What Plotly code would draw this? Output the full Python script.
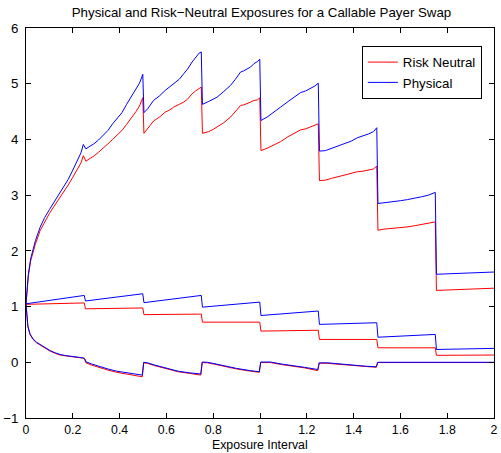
import plotly.graph_objects as go

# ---- Upper exposure quantile (Physical / Risk Neutral) ----
up_phys_x = [0, 0.005, 0.01, 0.02, 0.03, 0.04, 0.06, 0.08, 0.10, 0.12, 0.14, 0.16, 0.18, 0.20, 0.22, 0.235, 0.245,
             0.256, 0.27, 0.29, 0.31, 0.33, 0.35, 0.37, 0.39, 0.41, 0.43, 0.45, 0.47, 0.485, 0.495, 0.499,
             0.504, 0.52, 0.545, 0.57, 0.595, 0.615, 0.631, 0.655, 0.674, 0.69, 0.71, 0.725, 0.74, 0.749,
             0.754, 0.78, 0.80, 0.817, 0.845, 0.874, 0.895, 0.917, 0.93, 0.945, 0.96, 0.974, 0.99, 0.999,
             1.004, 1.03, 1.06, 1.088, 1.12, 1.145, 1.173, 1.195, 1.216, 1.235, 1.249,
             1.254, 1.28, 1.305, 1.33, 1.36, 1.39, 1.416, 1.44, 1.465, 1.485, 1.499,
             1.504, 1.53, 1.56, 1.60, 1.63, 1.66, 1.69, 1.72, 1.74, 1.749,
             1.754, 2.0]
up_phys_y = [1.05, 1.40, 1.58, 1.86, 2.02, 2.18, 2.42, 2.60, 2.74, 2.87, 3.00, 3.13, 3.28, 3.45, 3.62, 3.76, 3.91,
             3.83, 3.87, 3.92, 3.99, 4.07, 4.16, 4.28, 4.38, 4.48, 4.63, 4.76, 4.90, 5.01, 5.12, 5.17,
             4.48, 4.55, 4.70, 4.78, 4.88, 4.95, 5.00, 5.08, 5.18, 5.26, 5.39, 5.46, 5.55, 5.57,
             4.63, 4.68, 4.72, 4.76, 4.86, 4.97, 5.08, 5.21, 5.23, 5.27, 5.30, 5.36, 5.40, 5.44,
             4.34, 4.40, 4.50, 4.58, 4.68, 4.75, 4.84, 4.87, 4.91, 4.96, 5.01,
             3.79, 3.80, 3.84, 3.87, 3.93, 3.97, 4.03, 4.06, 4.10, 4.14, 4.21,
             2.85, 2.86, 2.88, 2.90, 2.92, 2.94, 2.97, 3.00, 3.03, 3.05,
             1.58, 1.62]

up_rn_x = up_phys_x
up_rn_y = [1.04, 1.38, 1.55, 1.82, 1.98, 2.12, 2.36, 2.53, 2.67, 2.80, 2.92, 3.05, 3.18, 3.32, 3.48, 3.58, 3.71,
           3.61, 3.65, 3.70, 3.77, 3.84, 3.92, 4.00, 4.08, 4.16, 4.27, 4.38, 4.50, 4.60, 4.70, 4.75,
           4.11, 4.20, 4.33, 4.40, 4.49, 4.53, 4.58, 4.63, 4.67, 4.72, 4.82, 4.87, 4.92, 4.94,
           4.11, 4.14, 4.18, 4.22, 4.30, 4.40, 4.50, 4.61, 4.62, 4.64, 4.67, 4.70, 4.71, 4.75,
           3.80, 3.84, 3.90, 3.96, 4.05, 4.11, 4.17, 4.19, 4.22, 4.25, 4.28,
           3.26, 3.27, 3.30, 3.33, 3.36, 3.39, 3.42, 3.43, 3.45, 3.47, 3.52,
           2.37, 2.39, 2.40, 2.42, 2.43, 2.45, 2.47, 2.49, 2.51, 2.52,
           1.29, 1.33]

# ---- Expected exposure ----
mid_x = [0, 0.249, 0.254, 0.499, 0.504, 0.749, 0.754, 0.999, 1.004, 1.249, 1.254, 1.499, 1.504, 1.749, 1.754, 2.0]
mid_phys_y = [1.05, 1.20, 1.10, 1.23, 1.07, 1.20, 0.99, 1.08, 0.84, 0.92, 0.68, 0.71, 0.45, 0.50, 0.23, 0.25]
mid_rn_y = [1.04, 1.065, 0.96, 0.975, 0.855, 0.865, 0.72, 0.72, 0.56, 0.575, 0.41, 0.41, 0.26, 0.26, 0.125, 0.13]

# ---- Lower exposure quantile ----
low_x = [0, 0.003, 0.008, 0.017, 0.03, 0.045, 0.06, 0.08, 0.103, 0.125, 0.146, 0.17, 0.196, 0.22, 0.243, 0.25,
         0.256, 0.28, 0.317, 0.35, 0.388, 0.43, 0.465, 0.497,
         0.503, 0.52, 0.55, 0.602, 0.65, 0.70, 0.747,
         0.753, 0.775, 0.80, 0.85, 0.90, 0.959, 0.997,
         1.003, 1.045, 1.09, 1.13, 1.19, 1.247,
         1.253, 1.29, 1.34, 1.388, 1.45, 1.497,
         1.503, 2.0]
low_phys_y = [1.05, 0.80, 0.65, 0.51, 0.42, 0.36, 0.32, 0.26, 0.21, 0.17, 0.14, 0.12, 0.11, 0.10, 0.08, 0.07,
              0.01, -0.03, -0.08, -0.12, -0.16, -0.19, -0.21, -0.23,
              0.0, -0.01, -0.05, -0.11, -0.16, -0.19, -0.21,
              0.005, 0.0, -0.02, -0.07, -0.11, -0.15, -0.17,
              0.005, 0.005, -0.03, -0.05, -0.09, -0.13,
              -0.01, -0.01, -0.03, -0.05, -0.07, -0.08,
              0.0, 0.0]
low_rn_y = [1.04, 0.79, 0.64, 0.50, 0.41, 0.35, 0.31, 0.25, 0.20, 0.16, 0.13, 0.115, 0.105, 0.095, 0.075, 0.065,
            -0.01, -0.05, -0.10, -0.14, -0.18, -0.21, -0.235, -0.26,
            -0.01, -0.02, -0.06, -0.12, -0.17, -0.20, -0.23,
            -0.005, -0.01, -0.03, -0.08, -0.12, -0.16, -0.18,
            -0.005, -0.005, -0.04, -0.06, -0.10, -0.15,
            -0.015, -0.02, -0.04, -0.06, -0.08, -0.09,
            -0.005, -0.005]

x_ticks = [0, 0.2, 0.4, 0.6, 0.8, 1, 1.2, 1.4, 1.6, 1.8, 2]
x_tick_text = ["0", "0.2", "0.4", "0.6", "0.8", "1", "1.2", "1.4", "1.6", "1.8", "2"]
y_ticks = [-1, 0, 1, 2, 3, 4, 5, 6]
y_tick_text = ["\u22121", "0", "1", "2", "3", "4", "5", "6"]

RED = "rgb(255,0,0)"
BLUE = "rgb(0,0,255)"
FONT = "Liberation Sans, Arial, Helvetica, sans-serif"
FS = 13.3
FS_X = 12.3

fig = go.Figure()

series = [
    ("Risk Neutral", RED, [(up_rn_x, up_rn_y), (mid_x, mid_rn_y), (low_x, low_rn_y)]),
    ("Physical", BLUE, [(up_phys_x, up_phys_y), (mid_x, mid_phys_y), (low_x, low_phys_y)]),
]
for name, color, curves in series:
    for i, (xs, ys) in enumerate(curves):
        fig.add_trace(go.Scatter(
            x=xs, y=ys, mode="lines", name=name, legendgroup=name,
            showlegend=(i == 0), line=dict(color=color, width=1),
        ))

axis_common = dict(
    showline=True, linecolor="black", linewidth=1, mirror="ticks",
    ticks="inside", ticklen=5, tickcolor="black", tickwidth=1,
    showgrid=False, zeroline=False, automargin=False,
)

fig.update_layout(
    width=501, height=453,
    margin=dict(l=26, r=7, t=28, b=35),
    paper_bgcolor="white", plot_bgcolor="white",
    title=dict(
        text="Physical and Risk\u2212Neutral Exposures for a Callable Payer Swap",
        x=0.522, xanchor="center", y=1 - 12 / 453, yanchor="middle",
        font=dict(family=FONT, size=FS, color="black"),
    ),
    xaxis=dict(range=[0, 2], tickvals=x_ticks, ticktext=x_tick_text,
               ticklabelstandoff=0,
               tickfont=dict(family=FONT, size=FS_X, color="black"),
               **axis_common),
    yaxis=dict(range=[-1, 6], tickvals=y_ticks, ticktext=y_tick_text,
               ticklabelstandoff=4,
               tickfont=dict(family=FONT, size=FS, color="black"),
               **axis_common),
    legend=dict(
        x=0.974, y=0.954, xanchor="right", yanchor="top",
        bgcolor="white", bordercolor="black", borderwidth=1,
        font=dict(family=FONT, size=FS, color="black"),
        tracegroupgap=0, itemwidth=30,
    ),
    showlegend=True,
)

# x-axis label placed below the tick labels, at the bottom edge of the figure
fig.add_annotation(
    text="Exposure Interval", xref="paper", yref="paper",
    x=0.5, y=-34.8 / 390, xanchor="center", yanchor="bottom",
    showarrow=False, font=dict(family=FONT, size=FS_X, color="black"),
    borderpad=0,
)

fig.write_html("out.html")
